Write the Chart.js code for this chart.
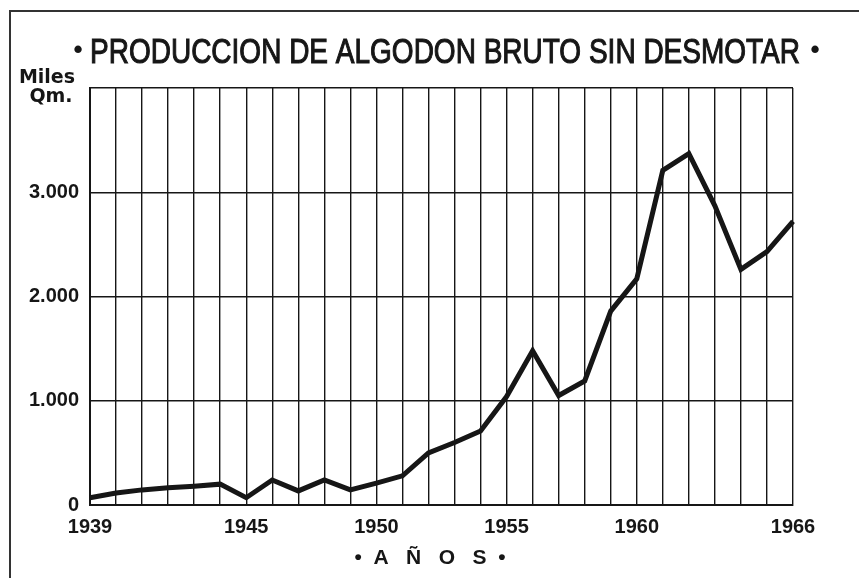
<!DOCTYPE html>
<html>
<head>
<meta charset="utf-8">
<script src="https://cdn.jsdelivr.net/npm/chart.js@4"></script>
<style>
    html, body { margin: 0; padding: 0; background: #fff; }
    #wrap { width: 859px; height: 578px; }
</style>
</head>
<body>
<div id="wrap"><canvas id="algodonChart" width="859" height="578"></canvas></div>
<script>
const years = [];
for (let y = 1939; y <= 1966; y++) years.push(String(y));

const labelYears = ["1939", "1945", "1950", "1955", "1960", "1966"];

// miles de Qm.
const production = [
    70, 115, 145, 165, 180, 200, 70, 240, 135, 240,
    145, 210, 280, 500, 600, 710, 1040, 1480, 1050, 1190,
    1860, 2170, 3210, 3370, 2870, 2260, 2430, 2720
];

const yTicks = [0, 1000, 2000, 3000, 4000];

const titleText = "PRODUCCION DE ALGODON BRUTO SIN DESMOTAR";
const unitLines = ["Miles", "Qm."];
const xTitle = "•  A   Ñ   O   S  •";

const ink = "#161616";

const decorPlugin = {
    id: "decor",
    afterDraw(chart) {
        const ctx = chart.ctx;
        ctx.save();

        // frame
        ctx.strokeStyle = "#333";
        ctx.lineWidth = 2;
        ctx.beginPath();
        ctx.moveTo(10, 578);
        ctx.lineTo(10, 11);
        ctx.lineTo(859, 11);
        ctx.stroke();

        ctx.fillStyle = ink;
        ctx.strokeStyle = ink;

        // title, squeezed to the narrow lettering of the original
        ctx.font = "35px 'Liberation Sans', Arial, sans-serif";
        ctx.textAlign = "left";
        ctx.textBaseline = "alphabetic";
        const w = ctx.measureText(titleText).width;
        const target = 710;
        ctx.save();
        ctx.translate(90, 63);
        ctx.scale(target / w, 1);
        ctx.lineWidth = 1.1;
        ctx.fillText(titleText, 0, 0);
        ctx.strokeText(titleText, 0, 0);
        ctx.restore();

        ctx.font = "bold 26px 'Liberation Sans', Arial, sans-serif";
        ctx.textAlign = "center";
        ctx.textBaseline = "middle";
        ctx.fillText("•", 78, 51);
        ctx.fillText("•", 815, 51);

        // unit label
        ctx.font = "bold 19px 'DejaVu Sans', sans-serif";
        ctx.textBaseline = "alphabetic";
        ctx.fillText(unitLines[0], 47, 83);
        ctx.fillText(unitLines[1], 51, 102);

        // x axis title
        ctx.font = "bold 21px 'Liberation Sans', Arial, sans-serif";
        ctx.textBaseline = "middle";
        ctx.fillText(xTitle, 430, 558);

        ctx.restore();
    }
};

const ctx = document.getElementById("algodonChart").getContext("2d");

new Chart(ctx, {
    type: "line",
    data: {
        labels: years,
        datasets: [{
            data: production,
            borderColor: ink,
            borderWidth: 5,
            pointRadius: 0,
            tension: 0,
            borderJoinStyle: "miter",
            fill: false
        }]
    },
    options: {
        responsive: false,
        animation: false,
        layout: {
            padding: { top: 88, right: 66, bottom: 0, left: 0 }
        },
        plugins: {
            legend: { display: false },
            title: { display: false },
            tooltip: { enabled: false }
        },
        scales: {
            x: {
                offset: false,
                grid: {
                    color: ink,
                    lineWidth: 1.4,
                    drawTicks: false
                },
                border: { color: ink, width: 2 },
                ticks: {
                    autoSkip: false,
                    maxRotation: 0,
                    padding: 10,
                    color: ink,
                    font: { family: "'Liberation Sans', Arial, sans-serif", size: 20, weight: "bold" },
                    callback: function (value) {
                        const lab = this.getLabelForValue(value);
                        return labelYears.includes(lab) ? lab : "";
                    }
                },
                afterFit: (s) => { s.height = 73; }
            },
            y: {
                min: 0,
                max: 4000,
                afterBuildTicks: (s) => { s.ticks = yTicks.map(v => ({ value: v })); },
                grid: {
                    color: ink,
                    lineWidth: 1.4,
                    drawTicks: false
                },
                border: { color: ink, width: 2 },
                ticks: {
                    padding: 11,
                    color: ink,
                    font: { family: "'Liberation Sans', Arial, sans-serif", size: 20, weight: "bold" },
                    callback: (v) => {
                        if (v === 4000) return "";
                        if (v === 0) return "0";
                        return (v / 1000) + ".000";
                    }
                },
                afterFit: (s) => { s.width = 90; }
            }
        }
    },
    plugins: [decorPlugin]
});
</script>
</body>
</html>
